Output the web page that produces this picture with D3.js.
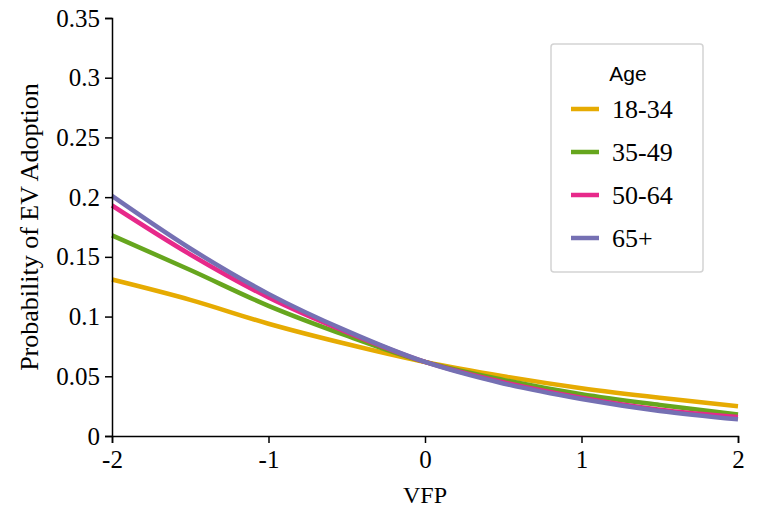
<!DOCTYPE html>
<html>
<head>
<meta charset="utf-8">
<script src="https://cdn.jsdelivr.net/npm/d3@7"></script>
<style>
  html, body { margin: 0; padding: 0; background: #fff; }
  svg { display: block; }
</style>
</head>
<body>
<svg id="chart" width="757" height="514"></svg>
<script>
const vfp = [-2, -1.5, -1, -0.5, 0, 0.5, 1, 1.5, 2];
const age18_34 = [0.131, 0.114, 0.094, 0.077, 0.062, 0.050, 0.040, 0.032, 0.025];
const age35_49 = [0.168, 0.139, 0.109, 0.084, 0.062, 0.047, 0.035, 0.026, 0.018];
const age50_64 = [0.193, 0.152, 0.116, 0.087, 0.062, 0.045, 0.032, 0.022, 0.016];
const age65p   = [0.201, 0.157, 0.119, 0.088, 0.062, 0.044, 0.031, 0.021, 0.014];
const seriesNames = ["18-34", "35-49", "50-64", "65+"];
const seriesValues = [age18_34, age35_49, age50_64, age65p];
const colors = ["#E6AB02", "#66A61E", "#E7298A", "#7570B3"];
const xTicks = [-2, -1, 0, 1, 2];
const yTicks = [0, 0.05, 0.1, 0.15, 0.2, 0.25, 0.3, 0.35];

const svg = d3.select("#chart");
const x = d3.scaleLinear().domain([-2, 2]).range([112, 738]);
const y = d3.scaleLinear().domain([0, 0.35]).range([436, 18]);
const serif = "'Liberation Serif', 'Times New Roman', Times, serif";

// lines
const line = d3.line().x((d, i) => x(vfp[i])).y(d => y(d)).curve(d3.curveMonotoneX);
seriesValues.forEach((vals, k) => {
  svg.append("path")
    .attr("d", line(vals))
    .attr("fill", "none")
    .attr("stroke", colors[k])
    .attr("stroke-width", 4.5)
    .attr("stroke-linecap", "butt");
});

// axes
const xAxis = svg.append("g").attr("transform", "translate(0,436)")
  .call(d3.axisBottom(x).tickValues(xTicks).tickSize(7).tickPadding(7).tickFormat(d => String(d)));
const yAxis = svg.append("g").attr("transform", "translate(112,0)")
  .call(d3.axisLeft(y).tickValues(yTicks).tickSize(7).tickPadding(5).tickFormat(d => d === 0 ? "0" : String(+d.toFixed(2))));
[xAxis, yAxis].forEach(g => {
  g.attr("font-family", serif).attr("font-size", 25);
  g.select(".domain").attr("stroke", "#000").attr("stroke-width", 1.5);
  g.selectAll(".tick line").attr("stroke", "#000").attr("stroke-width", 1.5);
  g.selectAll(".tick text").attr("fill", "#000").style("font-family", serif).style("font-size", "25px");
});

// axis titles
svg.append("text").attr("x", 425).attr("y", 503).attr("text-anchor", "middle")
  .style("font-family", serif).style("font-size", "24px").text("VFP");
svg.append("text").attr("transform", "translate(38,227) rotate(-90)").attr("text-anchor", "middle")
  .style("font-family", serif).style("font-size", "26px").text("Probability of EV Adoption");

// legend
const lg = svg.append("g");
lg.append("rect").attr("x", 551).attr("y", 44).attr("width", 152).attr("height", 228)
  .attr("rx", 3).attr("fill", "#fff").attr("stroke", "#d3d3d3").attr("stroke-width", 1.5);
lg.append("text").attr("x", 628).attr("y", 81).attr("text-anchor", "middle")
  .style("font-family", "'Liberation Sans', Arial, sans-serif").style("font-size", "21px").text("Age");
const legendY = d3.scalePoint().domain(seriesNames).range([109, 238]);
seriesNames.forEach((name, k) => {
  lg.append("line").attr("x1", 571).attr("x2", 599).attr("y1", legendY(name)).attr("y2", legendY(name))
    .attr("stroke", colors[k]).attr("stroke-width", 4.5);
  lg.append("text").attr("x", 612).attr("y", legendY(name) + 9)
    .style("font-family", serif).style("font-size", "26px").text(name);
});
</script>
</body>
</html>
